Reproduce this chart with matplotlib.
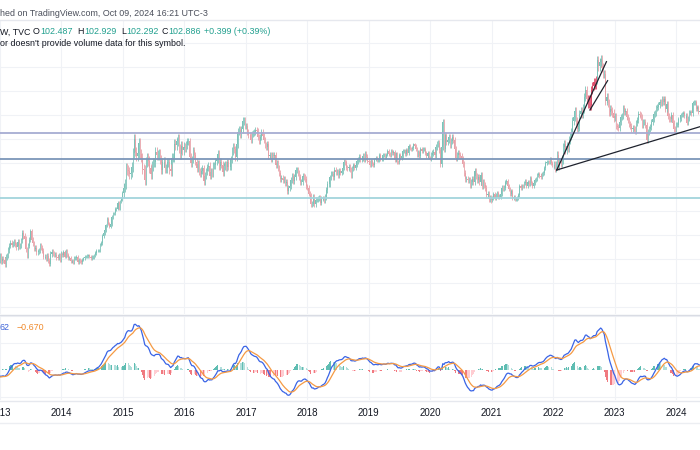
import matplotlib
matplotlib.use('Agg')
import matplotlib.pyplot as plt
import matplotlib.dates as mdates
from matplotlib.lines import Line2D
import numpy as np
import pandas as pd

plt.rcParams['font.family'] = ['Liberation Sans', 'DejaVu Sans']

# weekly closes of the dollar index (TVC:DXY), one list per year
first_week = '2012-07-30'
c2012 = [82.6, 82.5, 82.3, 81.7, 81.2, 80.2, 79.0, 79.3, 79.9, 79.5, 79.7, 79.5, 80.0, 80.6, 81.0,
         81.2, 80.3, 80.1, 80.4, 79.6, 79.4, 79.8]
c2013 = [80.6, 79.6, 80.0, 79.8, 79.1, 80.3, 80.6, 81.5, 82.2, 82.7, 82.4, 82.6, 82.9, 82.4, 82.0,
         82.8, 82.1, 82.2, 83.1, 84.3, 83.8, 83.3, 81.6, 80.6, 82.2, 83.2, 84.6, 83.2, 82.6, 81.7,
         81.9, 81.1, 81.2, 81.4, 82.2, 81.9, 81.4, 80.4, 80.4, 80.1, 80.5, 79.7, 79.2, 80.8, 81.2,
         80.9, 80.7, 80.7, 80.3, 80.2, 80.6, 80.0]
c2014 = [80.8, 80.7, 81.2, 80.4, 81.3, 80.7, 80.2, 80.2, 79.7, 79.7, 79.4, 80.2, 80.2, 80.4, 79.5,
         79.8, 79.7, 79.5, 79.9, 80.1, 80.4, 80.4, 80.5, 80.6, 80.4, 80.1, 80.3, 80.3, 80.6, 81.0,
         81.4, 81.4, 81.4, 82.4, 82.7, 83.8, 84.3, 84.8, 85.6, 86.7, 85.9, 85.4, 85.8, 87.0, 87.6,
         87.6, 88.3, 88.4, 89.3, 88.4, 89.6, 90.0]
c2015 = [91.0, 91.9, 92.5, 95.2, 94.8, 94.6, 94.1, 94.4, 95.3, 97.7, 100.0, 97.9, 97.2, 97.6, 99.3,
         97.5, 96.9, 95.0, 94.8, 93.1, 96.2, 96.9, 96.3, 95.1, 94.1, 95.5, 96.1, 96.1, 97.9, 97.3,
         97.3, 97.6, 96.6, 94.9, 96.1, 96.2, 95.1, 95.1, 96.1, 96.1, 95.0, 94.6, 96.9, 96.9, 99.2,
         99.0, 99.6, 100.0, 98.4, 97.5, 98.8, 98.1]
c2016 = [98.7, 98.5, 99.0, 99.6, 99.6, 97.0, 96.0, 96.6, 98.1, 97.3, 96.2, 95.1, 95.9, 94.6, 94.2,
         94.7, 95.1, 93.0, 93.9, 94.6, 95.3, 95.5, 93.9, 94.5, 94.2, 95.6, 95.6, 96.3, 96.6, 97.5,
         95.5, 96.2, 95.7, 94.5, 95.5, 95.8, 95.3, 96.1, 95.4, 95.4, 96.6, 98.0, 98.7, 98.3, 97.0,
         99.1, 101.2, 101.5, 100.8, 101.6, 103.0, 103.0, 102.2]
c2017 = [102.2, 101.2, 100.7, 100.6, 99.8, 100.8, 101.0, 101.1, 101.5, 101.3, 100.3, 99.7, 100.4,
         101.1, 100.5, 99.8, 99.0, 98.6, 99.2, 97.1, 97.4, 96.7, 97.3, 97.2, 97.3, 95.6, 96.0, 95.2,
         94.3, 93.3, 93.5, 93.1, 93.4, 92.7, 92.8, 91.3, 91.9, 92.2, 93.1, 93.8, 93.0, 93.7, 94.8,
         94.9, 94.4, 93.6, 92.8, 92.9, 93.9, 93.6, 93.3, 92.1]
c2018 = [91.9, 90.9, 90.6, 89.1, 89.2, 90.4, 89.1, 89.9, 89.9, 90.1, 90.2, 89.4, 90.1, 90.1, 89.8,
         90.3, 91.5, 92.5, 92.5, 93.6, 94.2, 94.2, 93.6, 94.8, 94.5, 94.5, 94.0, 94.7, 94.4, 94.6,
         95.2, 96.2, 96.1, 95.2, 95.1, 95.4, 94.9, 93.9, 95.1, 95.6, 95.2, 95.7, 96.3, 96.6, 97.0,
         96.6, 96.7, 97.2, 96.6, 97.5, 97.0, 96.4]
c2019 = [96.2, 95.6, 96.4, 95.8, 95.6, 96.6, 96.9, 96.5, 96.5, 97.3, 96.6, 96.7, 97.3, 97.4, 96.9,
         97.4, 98.0, 97.5, 97.3, 98.0, 97.6, 97.8, 96.5, 97.6, 96.2, 96.1, 97.3, 96.8, 97.2, 98.0,
         98.1, 97.5, 98.2, 97.6, 98.9, 98.4, 98.3, 98.5, 99.1, 98.8, 98.3, 97.3, 97.8, 97.2, 98.3,
         98.0, 98.3, 98.3, 97.7, 97.2, 97.7, 96.9]
c2020 = [96.8, 97.4, 97.6, 97.9, 97.4, 98.7, 99.1, 99.3, 98.1, 95.9, 98.7, 102.8, 98.4, 100.6, 99.5,
         99.8, 100.4, 99.0, 99.7, 100.4, 99.8, 98.3, 96.9, 97.3, 97.6, 97.4, 97.2, 96.6, 95.9, 94.4,
         93.3, 93.4, 93.1, 93.2, 92.4, 92.8, 93.3, 92.9, 94.6, 93.8, 93.1, 93.7, 92.8, 94.0, 92.2,
         92.8, 92.4, 91.8, 90.7, 90.9, 90.0, 90.2]
c2021 = [89.9, 90.1, 90.8, 90.2, 90.6, 91.0, 90.4, 90.4, 90.9, 91.9, 91.7, 91.9, 92.8, 93.0, 92.2,
         91.6, 90.9, 91.3, 90.2, 90.3, 90.0, 90.0, 90.1, 90.6, 92.2, 91.8, 92.2, 92.1, 92.7, 92.9,
         92.2, 92.8, 92.5, 93.5, 92.7, 92.1, 92.6, 93.2, 93.3, 94.0, 94.1, 93.9, 93.6, 94.1, 94.3,
         95.1, 96.0, 96.1, 96.2, 96.1, 96.6, 96.0, 95.7]
c2022 = [95.7, 95.2, 95.6, 97.3, 95.5, 96.1, 96.0, 96.6, 98.6, 99.1, 98.2, 98.8, 98.6, 99.8, 100.5,
         101.1, 103.0, 103.7, 104.6, 103.0, 101.7, 102.1, 104.2, 104.7, 104.2, 105.1, 107.0, 108.1,
         106.7, 105.9, 106.6, 105.6, 108.2, 108.8, 109.5, 109.0, 109.8, 113.2, 112.1, 112.8, 113.3,
         111.9, 110.8, 110.8, 106.3, 107.0, 106.0, 104.5, 105.0, 104.7, 104.3, 103.5]
c2023 = [103.9, 102.2, 102.0, 101.9, 102.9, 103.6, 103.9, 105.2, 104.5, 104.6, 103.7, 103.1, 102.5,
         102.1, 101.6, 101.8, 101.7, 101.3, 102.7, 103.2, 104.2, 104.0, 103.6, 102.3, 102.9, 102.9,
         102.3, 99.9, 101.1, 101.7, 102.0, 102.8, 103.4, 104.2, 104.3, 105.1, 105.3, 105.6, 106.2,
         106.0, 106.7, 106.2, 106.6, 105.0, 105.9, 103.9, 103.4, 103.3, 104.0, 102.6, 101.7, 101.3]
c2024 = [102.4, 102.4, 103.3, 103.4, 104.0, 104.1, 104.3, 103.9, 103.9, 102.7, 103.4, 104.4, 104.5,
         104.3, 106.0, 106.1, 106.1, 105.0, 105.3, 104.5, 104.7, 104.6]

# typical weekly wick beyond the candle body, per year (index points)
wick_years = [2012, 2013, 2014, 2015, 2016, 2017, 2018, 2019, 2020, 2021, 2022, 2023, 2024]
wick_size = [0.4, 0.45, 0.3, 0.8, 0.6, 0.5, 0.45, 0.3, 0.5, 0.35, 0.7, 0.5, 0.4]

# drawn levels and trend lines
levels = [101.0, 96.67, 90.17]
level_colors = ['#a6acd2', '#7c96b9', '#a3d4dc']
trend_lines = [
    (('2022-01-22', 94.83), ('2024-05-22', 102.05)),
    (('2022-01-22', 94.83), ('2022-11-13', 112.88)),
    (('2022-08-07', 104.83), ('2022-11-20', 109.72)),
]
year_labels = list(range(2013, 2025))

header = 'hed on TradingView.com, Oct 09, 2024 16:21 UTC-3'
legend_parts = [('W, TVC', 0, '#131722'), ('O', 33, '#131722'), ('102.487', 40, '#22a08f'),
                ('H', 77, '#131722'), ('102.929', 84, '#22a08f'), ('L', 121, '#131722'),
                ('102.292', 126, '#22a08f'), ('C', 161, '#131722'), ('102.886', 168, '#22a08f'),
                ('+0.399 (+0.39%)', 204, '#22a08f')]
volume_note = "or doesn't provide volume data for this symbol."
macd_legend = [('62', 0, '#3d63d8'), ('\u22120.670', 17, '#f08a2c')]

# ---- build candles ----
close = np.array(c2012 + c2013 + c2014 + c2015 + c2016 + c2017 + c2018 + c2019 + c2020
                 + c2021 + c2022 + c2023 + c2024)
dates = pd.date_range(first_week, periods=len(close), freq='W-MON')
opn = np.concatenate([[close[0]], close[:-1]])
wick = np.array([wick_size[wick_years.index(d.year)] for d in dates])
high = np.maximum(opn, close) + wick
low = np.minimum(opn, close) - wick
x = mdates.date2num(dates)

up = close >= opn
col = np.where(up, '#7cc3b9', '#e8a1a8')
hot = (dates >= pd.Timestamp('2022-07-25')) & (dates <= pd.Timestamp('2022-09-12'))
col = np.where(hot, '#dc4a68', col)

s = pd.Series(close)
macd = s.ewm(span=12, adjust=False).mean() - s.ewm(span=26, adjust=False).mean()
signal = macd.ewm(span=9, adjust=False).mean()
hist = (macd - signal).values
prev = np.concatenate([[0], hist[:-1]])
hcol = np.where(hist >= 0, np.where(hist >= prev, '#5fbdb2', '#b2dfdb'),
                np.where(hist < prev, '#f07a80', '#ffcdd2'))

W, H = 700, 450
fig = plt.figure(figsize=(7, 4.5), dpi=100)
fig.patch.set_facecolor('white')


def fy(px):
    return 1 - px / H


axp = fig.add_axes([0, fy(314), 1, (314 - 20) / H])
axm = fig.add_axes([0, fy(400), 1, (400 - 316) / H])

x0 = mdates.date2num(pd.Timestamp('2013-01-10'))
x1 = mdates.date2num(pd.Timestamp('2024-05-22'))
year_x = [mdates.date2num(pd.Timestamp(f'{y}-01-01')) for y in year_labels]

for ax in (axp, axm):
    ax.set_xlim(x0, x1)
    for sp in ax.spines.values():
        sp.set_visible(False)
    ax.set_xticks(year_x)
    ax.tick_params(length=0, labelbottom=False, labelleft=False)
    ax.grid(True, color='#f0f2f6', lw=0.8)
    ax.set_axisbelow(True)

# price pane
axp.set_ylim(70.83, 119.83)
axp.set_yticks(np.arange(72, 120, 4))
axp.vlines(x, low, high, colors=col, lw=0.6)
axp.bar(x, np.abs(close - opn), bottom=np.minimum(opn, close), width=4.5, color=col, lw=0)
for lv, lc in zip(levels, level_colors):
    axp.axhline(lv, color=lc, lw=1.3)
for (d0, p0), (d1, p1) in trend_lines:
    axp.plot([mdates.date2num(pd.Timestamp(d0)), mdates.date2num(pd.Timestamp(d1))], [p0, p1],
             color='#1e222d', lw=0.9)

# MACD pane
axm.set_ylim(-2.22, 4.0)
axm.set_yticks([-2, 2, 4])
axm.bar(x, hist, width=5, color=hcol, lw=0)
axm.plot(x, macd, color='#3a64e6', lw=0.9)
axm.plot(x, signal, color='#f59a44', lw=0.9)

for y, yx in zip(year_labels, year_x):
    axm.text(yx, -0.155, str(y), transform=axm.get_xaxis_transform(), ha='center', va='center',
             fontsize=7, color='#131722', clip_on=False)

# pane separators
for py, c in [(20, '#e6e8ee'), (315, '#d9dce4'), (401, '#e6e8ee'), (423, '#eceef2')]:
    fig.add_artist(Line2D([0, 1], [fy(py), fy(py)], color=c, lw=1))

fig.text(0, fy(13), header, fontsize=6.4, color='#4a4e5a', va='center')
for txt, px, c in legend_parts:
    fig.text(px / W, fy(32), txt, fontsize=6.4, color=c, va='center')
fig.text(0, fy(44), volume_note, fontsize=6.4, color='#131722', va='center')
for txt, px, c in macd_legend:
    fig.text(px / W, fy(328), txt, fontsize=6.4, color=c, va='center')

plt.savefig('out.png', dpi=100)
